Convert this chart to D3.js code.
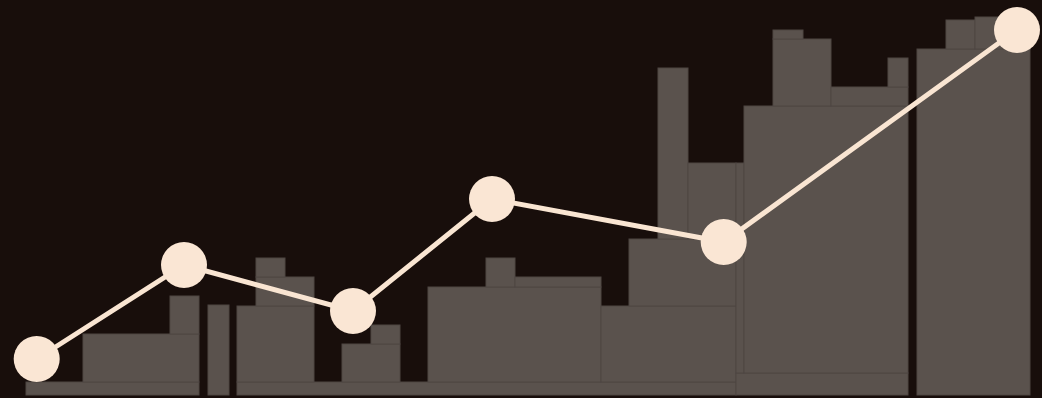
<!DOCTYPE html>
<html>
<head>
<meta charset="utf-8">
<script src="https://cdn.jsdelivr.net/npm/d3@7"></script>
<style>
  html, body { margin: 0; padding: 0; background: #180e0b; }
  svg { display: block; }
</style>
</head>
<body>
<svg id="chart" width="1042" height="398"></svg>
<script>
// Skyline blocks (x in horizontal units, low/high in value units)
const blockStart = [26, 83, 170, 208, 237, 237, 256, 256, 342, 371, 428, 486, 515, 601, 629, 658, 688, 736, 736, 744, 773, 773, 831, 888, 917, 946, 975];
const blockEnd   = [199, 199, 199, 229, 736, 314, 314, 285, 400, 400, 601, 515, 601, 736, 736, 688, 736, 908, 744, 908, 831, 803, 908, 908, 1030, 975, 1030];
const blockLow   = [0, 13, 61, 0, 0, 13, 89, 118, 13, 51, 13, 108, 108, 13, 89, 156, 156, 0, 22, 22, 289, 356, 289, 308, 0, 346, 346];
const blockHigh  = [13, 61, 99, 90, 13, 89, 118, 137, 51, 70, 108, 137, 118, 89, 156, 327, 232, 22, 232, 289, 356, 365, 308, 337, 346, 375, 378];

// Line series
const lineX = [36.7, 184, 353, 492, 723.7, 1017];
const lineY = [36, 130, 84, 196, 153, 365];

const W = 1042, H = 398, baseY = 395;
const svg = d3.select("#chart");
svg.append("rect").attr("width", W).attr("height", H).attr("fill", "#180e0b");

const x = d3.scaleLinear().domain([0, 1042]).range([0, W]);
const y = d3.scaleLinear().domain([0, 395]).range([baseY, 0]);

const blocks = blockStart.map((s, i) => ({s, e: blockEnd[i], lo: blockLow[i], hi: blockHigh[i]}));

svg.append("g").selectAll("rect").data(blocks).join("rect")
  .attr("x", d => x(d.s))
  .attr("width", d => x(d.e) - x(d.s))
  .attr("y", d => y(d.hi))
  .attr("height", d => y(d.lo) - y(d.hi))
  .attr("fill", "#5a524d")
  .attr("stroke", "#4e4643")
  .attr("stroke-width", 1);

const pts = lineX.map((v, i) => [x(v), y(lineY[i])]);

svg.append("path")
  .attr("d", d3.line()(pts))
  .attr("fill", "none")
  .attr("stroke", "#f9e5d2")
  .attr("stroke-width", 5);

svg.append("g").selectAll("circle").data(pts).join("circle")
  .attr("cx", d => d[0])
  .attr("cy", d => d[1])
  .attr("r", 23)
  .attr("fill", "#fae6d4");
</script>
</body>
</html>
